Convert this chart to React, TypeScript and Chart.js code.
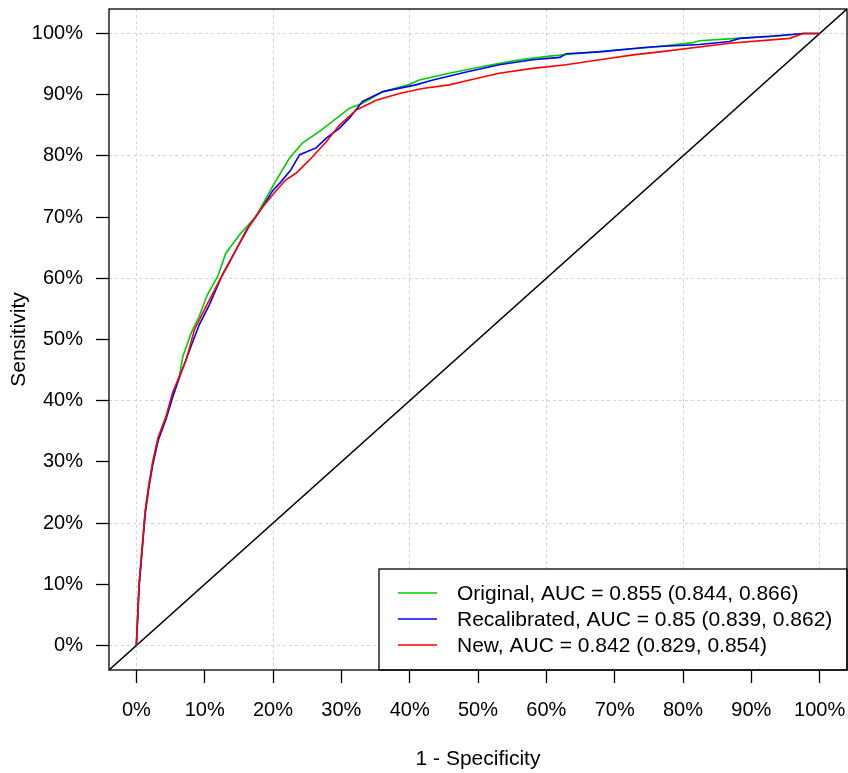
import React, { useEffect, useRef } from 'react';
import { Chart, registerables } from 'chart.js';

Chart.register(...registerables);

// ---------- data ----------
const tickValues = [0, 10, 20, 30, 40, 50, 60, 70, 80, 90, 100];
const gridStep = 20;
const axisMin = -4;
const axisMax = 104;

const originalFpr = [0, 0.2, 0.4, 0.7, 1.0, 1.3, 1.8, 2.4, 3.2, 4.35, 5.3, 6.3, 6.8, 8.0, 9.2, 10.4, 11.9, 13.1, 15.1, 17.5, 20.2, 22.4, 24.3, 26.8, 29.0, 31.2, 33.1, 36.1, 40.0, 41.4, 45.8, 50.7, 55.6, 60.5, 65.4, 70.2, 75.1, 81.4, 82.4, 87.8, 93.2, 97.6, 100];
const originalSens = [0, 5, 10, 14, 18, 22, 26, 30, 34, 37.4, 41, 44, 47.2, 51.0, 53.8, 57.3, 60.3, 64.1, 67.1, 70.1, 75.5, 79.6, 82.1, 84.0, 85.9, 87.8, 88.6, 90.5, 91.7, 92.4, 93.5, 94.6, 95.6, 96.3, 96.8, 97.3, 97.7, 98.5, 98.8, 99.2, 99.5, 100, 100];

const recalFpr = [0, 0.2, 0.4, 0.7, 1.0, 1.3, 1.8, 2.4, 3.2, 4.35, 5.3, 6.3, 7.8, 9.2, 10.7, 12.6, 14.6, 16.5, 18.5, 20.0, 21.2, 22.6, 23.9, 26.3, 27.8, 29.7, 31.2, 33.1, 36.1, 40.9, 43.4, 48.3, 53.1, 58.0, 62.0, 62.9, 67.8, 75.1, 82.4, 86.8, 88.3, 93.2, 97.6, 100];
const recalSens = [0, 4.5, 9.5, 13.5, 17.5, 21.5, 25.5, 29.5, 33.5, 37, 40.5, 43.8, 48.3, 52.4, 55.7, 60.6, 64.7, 68.5, 71.7, 74.4, 75.8, 77.7, 80.2, 81.3, 82.9, 84.5, 86.2, 88.9, 90.5, 91.6, 92.4, 93.7, 94.9, 95.7, 96.1, 96.7, 97.0, 97.8, 98.2, 98.7, 99.2, 99.6, 100, 100];

const newFpr = [0, 0.2, 0.4, 0.7, 1.0, 1.3, 1.8, 2.4, 3.2, 4.35, 5.3, 7.3, 8.5, 10.2, 12.2, 13.6, 16.1, 18.5, 20.5, 21.9, 23.4, 25.3, 27.8, 29.7, 32.2, 35.1, 38.5, 41.9, 45.8, 48.8, 53.1, 58.0, 62.9, 67.8, 72.7, 76.6, 86.8, 95.6, 97.6, 100];
const newSens = [0, 5, 10, 14, 18, 22, 26, 30, 34, 37.4, 41.3, 46.7, 51.6, 55.4, 59.7, 62.5, 67.9, 71.7, 74.4, 76.1, 77.2, 79.3, 82.3, 85.0, 87.5, 89.1, 90.2, 91.0, 91.6, 92.4, 93.5, 94.3, 94.9, 95.7, 96.5, 97.0, 98.4, 99.2, 100, 100];

const seriesLabels = [
  'Original, AUC = 0.855 (0.844, 0.866)',
  'Recalibrated, AUC = 0.85 (0.839, 0.862)',
  'New, AUC = 0.842 (0.829, 0.854)',
];
const seriesColors = ['#00CD00', '#0000FF', '#FF0000'];

const xTitle = '1 - Specificity';
const yTitle = 'Sensitivity';

const FONT = '"Liberation Sans", Arial, Helvetica, sans-serif';

function toPoints(xs: number[], ys: number[]) {
  return xs.map((x, i) => ({ x, y: ys[i] }));
}

const boxAndLegendPlugin = {
  id: 'boxAndLegend',
  afterDraw(chart: any) {
    const { ctx, chartArea } = chart;
    const { left, top, right, bottom } = chartArea;
    ctx.save();
    // legend
    const lw = 468;
    const lh = 101;
    const lx = right - lw;
    const ly = bottom - lh;
    ctx.fillStyle = '#FFFFFF';
    ctx.fillRect(lx, ly, lw, lh);
    ctx.strokeStyle = '#000000';
    ctx.lineWidth = 1.3;
    ctx.strokeRect(lx, ly, lw, lh);
    const rowOffsets = [77, 51, 25];
    ctx.font = '21px ' + FONT;
    ctx.textBaseline = 'middle';
    ctx.textAlign = 'left';
    for (let i = 0; i < seriesLabels.length; i++) {
      const y = bottom - rowOffsets[i];
      ctx.strokeStyle = seriesColors[i];
      ctx.lineWidth = 1.5;
      ctx.beginPath();
      ctx.moveTo(lx + 19, y);
      ctx.lineTo(lx + 58, y);
      ctx.stroke();
      ctx.fillStyle = '#000000';
      ctx.fillText(seriesLabels[i], lx + 78, y + 1);
    }
    // plot box
    ctx.strokeStyle = '#000000';
    ctx.lineWidth = 1.3;
    ctx.strokeRect(left, top, right - left, bottom - top);
    ctx.restore();
  },
};

function makeAxis(title: string, isX: boolean) {
  return {
    type: 'linear',
    min: axisMin,
    max: axisMax,
    afterBuildTicks: (scale: any) => {
      scale.ticks = tickValues.map((v) => ({ value: v }));
    },
    afterFit: (scale: any) => {
      if (isX) scale.height = 103;
      else scale.width = 109;
      scale.paddingTop = 0;
      scale.paddingBottom = 0;
      scale.paddingLeft = 0;
      scale.paddingRight = 0;
    },
    grid: {
      color: (c: any) => (c.tick && c.tick.value % gridStep === 0 ? '#D3D3D3' : 'rgba(0,0,0,0)'),
      lineWidth: 1,
      tickColor: '#000000',
      tickWidth: 1.3,
      tickLength: 13,
      tickBorderDash: [],
      drawOnChartArea: true,
      drawTicks: true,
    },
    border: { display: false, dash: [3, 3] },
    ticks: {
      color: '#000000',
      font: { family: FONT, size: 20 },
      padding: isX ? 15 : 13,
      maxRotation: 0,
      autoSkip: false,
      callback: (v: any) => v + '%',
    },
    title: {
      display: true,
      text: title,
      color: '#000000',
      font: { family: FONT, size: 21 },
      padding: isX ? { top: 0, bottom: 1 } : { top: 7, bottom: 0 },
    },
  };
}

export default function App() {
  const canvasRef = useRef<HTMLCanvasElement | null>(null);

  useEffect(() => {
    if (!canvasRef.current) return;
    const chart = new Chart(canvasRef.current, {
      type: 'scatter',
      data: {
        datasets: [
          {
            label: seriesLabels[2],
            data: toPoints(newFpr, newSens),
            borderColor: seriesColors[2],
            showLine: true,
            pointRadius: 0,
            borderWidth: 1.6,
            tension: 0,
          },
          {
            label: seriesLabels[1],
            data: toPoints(recalFpr, recalSens),
            borderColor: seriesColors[1],
            showLine: true,
            pointRadius: 0,
            borderWidth: 1.6,
            tension: 0,
          },
          {
            label: seriesLabels[0],
            data: toPoints(originalFpr, originalSens),
            borderColor: seriesColors[0],
            showLine: true,
            pointRadius: 0,
            borderWidth: 1.6,
            tension: 0,
          },
          {
            label: 'diagonal',
            data: [
              { x: axisMin, y: axisMin },
              { x: axisMax, y: axisMax },
            ],
            borderColor: '#000000',
            showLine: true,
            pointRadius: 0,
            borderWidth: 1.5,
          },
        ],
      } as any,
      options: {
        responsive: false,
        animation: false,
        devicePixelRatio: 1,
        layout: { padding: { top: 9, right: 1, left: 0, bottom: 0 } },
        plugins: {
          legend: { display: false },
          tooltip: { enabled: false },
        },
        scales: {
          x: makeAxis(xTitle, true),
          y: makeAxis(yTitle, false),
        } as any,
      },
      plugins: [boxAndLegendPlugin],
    });
    return () => chart.destroy();
  }, []);

  return (
    <div style={{ position: 'absolute', left: 0, top: 0, width: 848, height: 773, background: '#FFFFFF' }}>
      <canvas ref={canvasRef} width={848} height={773} style={{ width: 848, height: 773 }} />
    </div>
  );
}
